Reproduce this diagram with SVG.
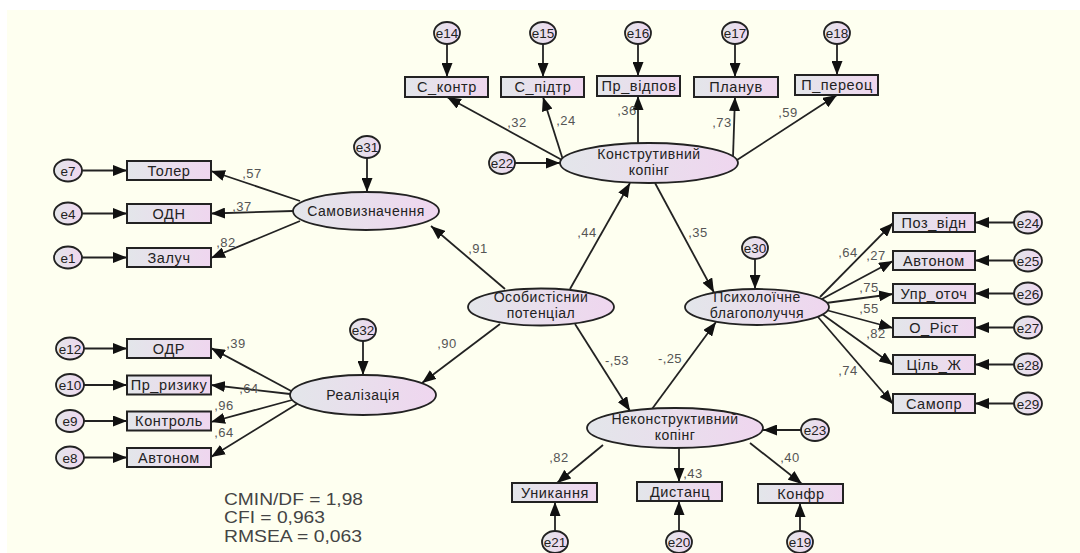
<svg xmlns="http://www.w3.org/2000/svg" width="1080" height="553" viewBox="0 0 1080 553">
<defs>
<linearGradient id="fillg" x1="0" y1="0" x2="1" y2="0">
<stop offset="0" stop-color="#e3e6ea"/>
<stop offset="1" stop-color="#efd6ef"/>
</linearGradient>
<marker id="ah" markerUnits="userSpaceOnUse" markerWidth="15" markerHeight="11" refX="14" refY="5.5" orient="auto">
<path d="M0,0 L14,5.5 L0,11 Z" fill="#111"/>
</marker>
<style>
.bx{fill:url(#fillg);stroke:#222;stroke-width:2}
.el{fill:url(#fillg);stroke:#222;stroke-width:1.8}
.er{fill:url(#fillg);stroke:#222;stroke-width:1.8}
.t{font-family:"Liberation Sans",Arial,sans-serif;font-size:14.5px;letter-spacing:0.6px;fill:#222;text-anchor:middle}
.te{font-family:"Liberation Sans",Arial,sans-serif;font-size:14px;letter-spacing:0.5px;fill:#222;text-anchor:middle}
.tr{font-family:"Liberation Sans",Arial,sans-serif;font-size:13.5px;fill:#222;text-anchor:middle}
.w{font-family:"Liberation Sans",Arial,sans-serif;font-size:13px;letter-spacing:0.4px;fill:#555;text-anchor:middle}
.fit{font-family:"Liberation Sans",Arial,sans-serif;font-size:16.5px;fill:#444}
#connectors line{stroke:#222;stroke-width:1.8;marker-end:url(#ah)}
</style>
</defs>
<rect width="1080" height="553" fill="#ffffff"/>
<rect x="7" y="10" width="1073" height="543" fill="#fefff0"/>

<g id="connectors">
<line x1="447" y1="44" x2="447" y2="77"/>
<line x1="543" y1="44" x2="543" y2="77"/>
<line x1="638" y1="44" x2="638" y2="76"/>
<line x1="735" y1="44" x2="735" y2="77"/>
<line x1="837" y1="44" x2="837" y2="75"/>
<line x1="515" y1="163" x2="560" y2="163"/>
<line x1="562" y1="160" x2="447" y2="97"/>
<line x1="563" y1="160" x2="543" y2="97"/>
<line x1="638" y1="143" x2="638" y2="96"/>
<line x1="733" y1="157" x2="735" y2="97"/>
<line x1="737" y1="160" x2="837" y2="95"/>
<line x1="82" y1="170.5" x2="127" y2="170.5"/>
<line x1="82" y1="213.5" x2="127" y2="213.5"/>
<line x1="82" y1="257.5" x2="127" y2="257.5"/>
<line x1="367" y1="158" x2="367" y2="192"/>
<line x1="300" y1="201" x2="211" y2="171"/>
<line x1="293" y1="211" x2="211" y2="213.5"/>
<line x1="300" y1="221" x2="211" y2="258"/>
<line x1="84" y1="348.5" x2="127" y2="348.5"/>
<line x1="84" y1="385" x2="127" y2="385"/>
<line x1="84" y1="421" x2="127" y2="421"/>
<line x1="84" y1="457.5" x2="127" y2="457.5"/>
<line x1="363" y1="341" x2="363" y2="375"/>
<line x1="293" y1="392" x2="211" y2="348"/>
<line x1="290" y1="394" x2="211" y2="385"/>
<line x1="292" y1="400" x2="211" y2="422"/>
<line x1="297" y1="404" x2="211" y2="457"/>
<line x1="505" y1="289" x2="431" y2="226"/>
<line x1="500" y1="324" x2="422" y2="383"/>
<line x1="570" y1="289" x2="630" y2="183"/>
<line x1="575" y1="324" x2="630" y2="411"/>
<line x1="655" y1="183" x2="714" y2="292.5"/>
<line x1="652" y1="409" x2="716" y2="322"/>
<line x1="755" y1="259" x2="755" y2="289"/>
<line x1="820" y1="297" x2="893" y2="223"/>
<line x1="822" y1="299" x2="893" y2="261"/>
<line x1="826" y1="303" x2="893" y2="294"/>
<line x1="826" y1="310" x2="893" y2="328"/>
<line x1="822" y1="314" x2="893" y2="365"/>
<line x1="818" y1="317" x2="893" y2="404"/>
<line x1="1014" y1="222.5" x2="975" y2="222.5"/>
<line x1="1014" y1="260.5" x2="975" y2="260.5"/>
<line x1="1014" y1="293.5" x2="975" y2="293.5"/>
<line x1="1014" y1="327.5" x2="975" y2="327.5"/>
<line x1="1014" y1="364.5" x2="975" y2="364.5"/>
<line x1="1014" y1="403.5" x2="975" y2="403.5"/>
<line x1="801" y1="430" x2="763" y2="430"/>
<line x1="603" y1="445" x2="557" y2="483"/>
<line x1="679" y1="448" x2="679" y2="482"/>
<line x1="750" y1="443" x2="802" y2="484"/>
<line x1="555" y1="531" x2="555" y2="502"/>
<line x1="679" y1="531" x2="679" y2="501"/>
<line x1="800" y1="531" x2="800" y2="503"/>
</g>

<g id="weights">
<text class="w" x="517" y="127">,32</text>
<text class="w" x="566" y="125">,24</text>
<text class="w" x="627" y="115">,36</text>
<text class="w" x="722" y="127">,73</text>
<text class="w" x="788" y="117">,59</text>
<text class="w" x="252" y="178">,57</text>
<text class="w" x="242" y="211">,37</text>
<text class="w" x="226" y="247">,82</text>
<text class="w" x="236" y="348">,39</text>
<text class="w" x="249" y="393">,64</text>
<text class="w" x="224" y="410">,96</text>
<text class="w" x="224" y="437">,64</text>
<text class="w" x="478" y="253">,91</text>
<text class="w" x="447" y="348">,90</text>
<text class="w" x="587" y="237">,44</text>
<text class="w" x="698" y="237">,35</text>
<text class="w" x="617" y="365">-,53</text>
<text class="w" x="670" y="363">-,25</text>
<text class="w" x="848" y="257">,64</text>
<text class="w" x="876" y="260">,27</text>
<text class="w" x="869" y="292">,75</text>
<text class="w" x="869" y="313">,55</text>
<text class="w" x="876" y="338">,82</text>
<text class="w" x="848" y="375">,74</text>
<text class="w" x="559" y="462">,82</text>
<text class="w" x="693" y="478">,43</text>
<text class="w" x="790" y="462">,40</text>
</g>

<g id="n-konstr"><ellipse class="el" cx="649" cy="163" rx="89" ry="20"/><text class="te" x="649" y="159">Конструтивний</text><text class="te" x="649" y="175">копінг</text></g>
<g id="n-samov"><ellipse class="el" cx="366" cy="211" rx="73" ry="19"/><text class="te" x="366" y="216">Самовизначення</text></g>
<g id="n-real"><ellipse class="el" cx="363" cy="395" rx="73" ry="20"/><text class="te" x="363" y="400">Реалізація</text></g>
<g id="n-osob"><ellipse class="el" cx="541" cy="307" rx="73" ry="18.5"/><text class="te" x="541" y="302">Особистісний</text><text class="te" x="541" y="318">потенціал</text></g>
<g id="n-psykh"><ellipse class="el" cx="757" cy="307" rx="72" ry="18"/><text class="te" x="757" y="302">Психолоїчне</text><text class="te" x="757" y="318">благополуччя</text></g>
<g id="n-nekonstr"><ellipse class="el" cx="675" cy="428" rx="88" ry="20"/><text class="te" x="675" y="424">Неконструктивний</text><text class="te" x="675" y="440">копінг</text></g>

<g id="b-skontr"><rect class="bx" x="405" y="77" width="83" height="20"/><text class="t" x="447" y="92">С_контр</text></g>
<g id="b-spidtr"><rect class="bx" x="501" y="77" width="83" height="20"/><text class="t" x="543" y="92">С_підтр</text></g>
<g id="b-prvidpov"><rect class="bx" x="597" y="76" width="83" height="20"/><text class="t" x="639" y="91">Пр_відпов</text></g>
<g id="b-planuv"><rect class="bx" x="694" y="77" width="84" height="20"/><text class="t" x="736" y="92">Планув</text></g>
<g id="b-pereots"><rect class="bx" x="795" y="75" width="83" height="20"/><text class="t" x="837" y="90">П_переоц</text></g>

<g id="b-toler"><rect class="bx" x="127" y="161" width="84" height="19"/><text class="t" x="169" y="175.5">Толер</text></g>
<g id="b-odn"><rect class="bx" x="127" y="204" width="84" height="19"/><text class="t" x="169" y="218.5">ОДН</text></g>
<g id="b-zaluch"><rect class="bx" x="127" y="248" width="84" height="19"/><text class="t" x="169" y="262.5">Залуч</text></g>

<g id="b-odr"><rect class="bx" x="127" y="339" width="84" height="19"/><text class="t" x="169" y="353.5">ОДР</text></g>
<g id="b-pryzyku"><rect class="bx" x="127" y="375.5" width="84" height="19"/><text class="t" x="169" y="390">Пр_ризику</text></g>
<g id="b-kontrol"><rect class="bx" x="127" y="411.5" width="84" height="19"/><text class="t" x="169" y="426">Контроль</text></g>
<g id="b-avtonom1"><rect class="bx" x="127" y="448" width="84" height="19"/><text class="t" x="169" y="462.5">Автоном</text></g>

<g id="b-pozvidn"><rect class="bx" x="893" y="213" width="82" height="19"/><text class="t" x="934" y="227.5">Поз_відн</text></g>
<g id="b-avtonom2"><rect class="bx" x="893" y="251" width="82" height="19"/><text class="t" x="934" y="265.5">Автоном</text></g>
<g id="b-uproth"><rect class="bx" x="893" y="284" width="82" height="19"/><text class="t" x="934" y="298.5">Упр_оточ</text></g>
<g id="b-orist"><rect class="bx" x="893" y="318" width="82" height="19"/><text class="t" x="934" y="332.5">О_Ріст</text></g>
<g id="b-tsil"><rect class="bx" x="893" y="355" width="82" height="19"/><text class="t" x="934" y="369.5">Ціль_Ж</text></g>
<g id="b-samopr"><rect class="bx" x="893" y="394" width="82" height="19"/><text class="t" x="934" y="408.5">Самопр</text></g>

<g id="b-unykannia"><rect class="bx" x="512" y="483" width="85" height="19"/><text class="t" x="555" y="497.5">Уникання</text></g>
<g id="b-dystants"><rect class="bx" x="637" y="482" width="85" height="19"/><text class="t" x="680" y="496.5">Дистанц</text></g>
<g id="b-konfr"><rect class="bx" x="758" y="484" width="85" height="19"/><text class="t" x="801" y="498.5">Конфр</text></g>

<g id="e14"><ellipse class="er" cx="447" cy="33" rx="13" ry="11"/><text class="tr" x="447" y="38">e14</text></g>
<g id="e15"><ellipse class="er" cx="543" cy="33" rx="13" ry="11"/><text class="tr" x="543" y="38">e15</text></g>
<g id="e16"><ellipse class="er" cx="638" cy="33" rx="13" ry="11"/><text class="tr" x="638" y="38">e16</text></g>
<g id="e17"><ellipse class="er" cx="735" cy="33" rx="13" ry="11"/><text class="tr" x="735" y="38">e17</text></g>
<g id="e18"><ellipse class="er" cx="837" cy="33" rx="13" ry="11"/><text class="tr" x="837" y="38">e18</text></g>
<g id="e22"><ellipse class="er" cx="502" cy="163" rx="13" ry="11"/><text class="tr" x="502" y="168">e22</text></g>
<g id="e31"><ellipse class="er" cx="367" cy="147" rx="13" ry="11"/><text class="tr" x="367" y="152">e31</text></g>
<g id="e32"><ellipse class="er" cx="363" cy="330" rx="13" ry="11"/><text class="tr" x="363" y="335">e32</text></g>
<g id="e30"><ellipse class="er" cx="755" cy="248" rx="13" ry="11"/><text class="tr" x="755" y="253">e30</text></g>
<g id="e7"><ellipse class="er" cx="68" cy="170.5" rx="14" ry="11"/><text class="tr" x="68" y="175.5">e7</text></g>
<g id="e4"><ellipse class="er" cx="68" cy="213.5" rx="14" ry="11"/><text class="tr" x="68" y="218.5">e4</text></g>
<g id="e1"><ellipse class="er" cx="68" cy="257.5" rx="14" ry="11"/><text class="tr" x="68" y="262.5">e1</text></g>
<g id="e12"><ellipse class="er" cx="70" cy="348.5" rx="14" ry="11"/><text class="tr" x="70" y="353.5">e12</text></g>
<g id="e10"><ellipse class="er" cx="70" cy="385" rx="14" ry="11"/><text class="tr" x="70" y="390">e10</text></g>
<g id="e9"><ellipse class="er" cx="70" cy="421" rx="14" ry="11"/><text class="tr" x="70" y="426">e9</text></g>
<g id="e8"><ellipse class="er" cx="70" cy="457.5" rx="14" ry="11"/><text class="tr" x="70" y="462.5">e8</text></g>
<g id="e24"><ellipse class="er" cx="1028" cy="222.5" rx="14" ry="11"/><text class="tr" x="1028" y="227.5">e24</text></g>
<g id="e25"><ellipse class="er" cx="1028" cy="260.5" rx="14" ry="11"/><text class="tr" x="1028" y="265.5">e25</text></g>
<g id="e26"><ellipse class="er" cx="1028" cy="293.5" rx="14" ry="11"/><text class="tr" x="1028" y="298.5">e26</text></g>
<g id="e27"><ellipse class="er" cx="1028" cy="327.5" rx="14" ry="11"/><text class="tr" x="1028" y="332.5">e27</text></g>
<g id="e28"><ellipse class="er" cx="1028" cy="364.5" rx="14" ry="11"/><text class="tr" x="1028" y="369.5">e28</text></g>
<g id="e29"><ellipse class="er" cx="1028" cy="403.5" rx="14" ry="11"/><text class="tr" x="1028" y="408.5">e29</text></g>
<g id="e23"><ellipse class="er" cx="815" cy="430" rx="14" ry="11"/><text class="tr" x="815" y="435">e23</text></g>
<g id="e21"><ellipse class="er" cx="555" cy="542" rx="13" ry="11"/><text class="tr" x="555" y="547">e21</text></g>
<g id="e20"><ellipse class="er" cx="679" cy="542" rx="13" ry="11"/><text class="tr" x="679" y="547">e20</text></g>
<g id="e19"><ellipse class="er" cx="800" cy="542" rx="13" ry="11"/><text class="tr" x="800" y="547">e19</text></g>

<g id="fit">
<text class="fit" x="224" y="504.5" textLength="139" lengthAdjust="spacingAndGlyphs">CMIN/DF = 1,98</text>
<text class="fit" x="224" y="523" textLength="101" lengthAdjust="spacingAndGlyphs">CFI = 0,963</text>
<text class="fit" x="224" y="541.5" textLength="138" lengthAdjust="spacingAndGlyphs">RMSEA = 0,063</text>
</g>
</svg>
